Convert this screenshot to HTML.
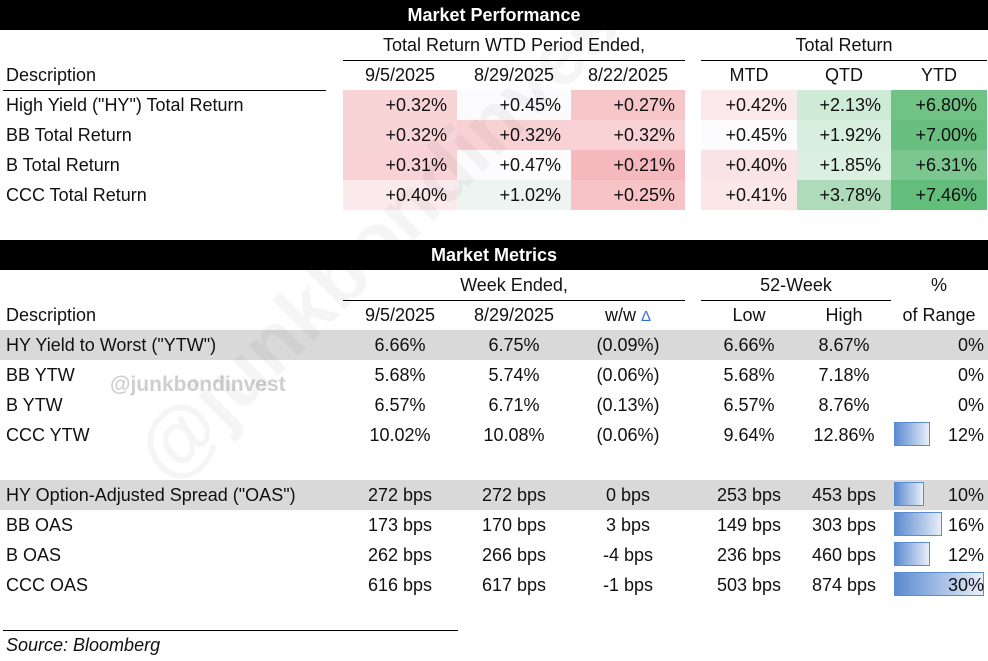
<!DOCTYPE html>
<html><head><meta charset="utf-8">
<style>
body{margin:0;width:988px;height:661px;background:#fff;position:relative;overflow:hidden;font-family:"Liberation Sans",sans-serif;font-size:18px;color:#111}
.a{position:absolute;white-space:nowrap;line-height:30px;height:30px}
.bar{position:absolute;background:#000;color:#fff;font-weight:bold;text-align:center;line-height:30px;height:30px;left:0;width:988px}
.ln{position:absolute;height:1px;background:#000}
.r{text-align:right;padding-right:10px;box-sizing:border-box}
.c{text-align:center}
.g{position:absolute;left:0;width:988px;height:30px;background:#d9d9d9}
.wm{position:absolute;left:150px;top:420px;font-size:80px;font-weight:bold;color:rgba(0,0,0,0.04);transform:rotate(-45deg);transform-origin:left center}
</style></head><body>
<div class="bar" style="top:0">Market Performance</div>
<div class="a c" style="left:343px;width:342px;top:30px">Total Return WTD Period Ended,</div>
<div class="a c" style="left:701px;width:286px;top:30px">Total Return</div>
<div class="ln" style="left:343px;width:342px;top:60px"></div>
<div class="ln" style="left:701px;width:286px;top:60px"></div>
<div class="a" style="left:6px;top:60px">Description</div>
<div class="a c" style="left:343px;width:114px;top:60px">9/5/2025</div>
<div class="a c" style="left:457px;width:114px;top:60px">8/29/2025</div>
<div class="a c" style="left:571px;width:114px;top:60px">8/22/2025</div>
<div class="a c" style="left:701px;width:96px;top:60px">MTD</div>
<div class="a c" style="left:797px;width:94px;top:60px">QTD</div>
<div class="a c" style="left:891px;width:96px;top:60px">YTD</div>
<div class="ln" style="left:3px;width:323px;top:90px"></div>
<div id="perf"></div>

<div class="bar" style="top:240px">Market Metrics</div>
<div class="a c" style="left:343px;width:342px;top:270px">Week Ended,</div>
<div class="a c" style="left:701px;width:190px;top:270px">52-Week</div>
<div class="a c" style="left:891px;width:96px;top:270px">%</div>
<div class="ln" style="left:343px;width:342px;top:300px"></div>
<div class="ln" style="left:701px;width:190px;top:300px"></div>
<div class="a" style="left:6px;top:300px">Description</div>
<div class="a c" style="left:343px;width:114px;top:300px">9/5/2025</div>
<div class="a c" style="left:457px;width:114px;top:300px">8/29/2025</div>
<div class="a c" style="left:571px;width:114px;top:300px">w/w <span style="color:#2f6fd0;font-size:15px">Δ</span></div>
<div class="a c" style="left:701px;width:96px;top:300px">Low</div>
<div class="a c" style="left:797px;width:94px;top:300px">High</div>
<div class="a c" style="left:891px;width:96px;top:300px">of Range</div>
<div class="ln" style="left:3px;width:323px;top:330px"></div>
<div class="ln" style="left:343px;width:342px;top:330px"></div>
<div class="ln" style="left:701px;width:286px;top:330px"></div>
<div class="g" style="top:330px"></div>
<div class="g" style="top:480px"></div>
<div class="a" style="left:110px;top:370px;color:#cfcfcf;font-weight:bold;font-size:21px">@junkbondinvest</div>
<div id="met"></div>
<div class="ln" style="left:3px;width:455px;top:630px"></div>
<div class="a" style="left:6px;top:630px;font-style:italic">Source: Bloomberg</div>
<div class="wm">@junkbondinvest</div>

<script>
const perfRows=["High Yield (\"HY\") Total Return","BB Total Return","B Total Return","CCC Total Return"];
const perfVals=[["+0.32%","+0.45%","+0.27%","+0.42%","+2.13%","+6.80%"],["+0.32%","+0.32%","+0.32%","+0.45%","+1.92%","+7.00%"],["+0.31%","+0.47%","+0.21%","+0.40%","+1.85%","+6.31%"],["+0.40%","+1.02%","+0.25%","+0.41%","+3.78%","+7.46%"]];
const perfColors=[["#f8d4d7","#fbfbfe","#f7c6c9","#fbe8ea","#cdebd5","#70c285"],["#f8d4d7","#f8d1d4","#f8d2d5","#fcfcff","#d8efdf","#69bf80"],["#f8d2d5","#fcfcff","#f5b9bd","#f9e3e6","#dcf0e2","#7bc78f"],["#fbeaec","#eef4f1","#f7c3c6","#fbe6e8","#aedcbb","#63be7b"]];
const metRows=["HY Yield to Worst (\"YTW\")","BB YTW","B YTW","CCC YTW","","HY Option-Adjusted Spread (\"OAS\")","BB OAS","B OAS","CCC OAS"];
const metVals=[["6.66%","6.75%","(0.09%)","6.66%","8.67%"],["5.68%","5.74%","(0.06%)","5.68%","7.18%"],["6.57%","6.71%","(0.13%)","6.57%","8.76%"],["10.02%","10.08%","(0.06%)","9.64%","12.86%"],null,["272 bps","272 bps","0 bps","253 bps","453 bps"],["173 bps","170 bps","3 bps","149 bps","303 bps"],["262 bps","266 bps","-4 bps","236 bps","460 bps"],["616 bps","617 bps","-1 bps","503 bps","874 bps"]];
const rangePct=[0,0,0,12,null,10,16,12,30];
const pc=[[343,114],[457,114],[571,114],[701,96],[797,94],[891,96]];
const mc=[[343,114],[457,114],[571,114],[701,96],[797,94]];
const P=document.getElementById('perf'),M=document.getElementById('met');
perfRows.forEach((n,i)=>{
  const y=90+i*30;
  const d=document.createElement('div');d.className='a';d.style.left='6px';d.style.top=y+'px';d.textContent=n;
  
  
  P.appendChild(d);
  perfVals[i].forEach((v,j)=>{
    const c=document.createElement('div');c.className='a r';
    c.style.left=pc[j][0]+'px';c.style.width=pc[j][1]+'px';c.style.top=y+'px';c.style.background=perfColors[i][j];c.textContent=v;
    
    
    P.appendChild(c);
  });
});
const xs=v=>v*3.0;
metRows.forEach((n,i)=>{
  if(metVals[i]===null)return;
  const y=330+i*30;
  const d=document.createElement('div');d.className='a';d.style.left='6px';d.style.top=y+'px';d.textContent=n;
  
  
  M.appendChild(d);
  metVals[i].forEach((v,j)=>{
    const c=document.createElement('div');c.className='a c';
    c.style.left=mc[j][0]+'px';c.style.width=mc[j][1]+'px';c.style.top=y+'px';c.textContent=v;
    
    
    M.appendChild(c);
  });
  const p=rangePct[i];
  if(p>0){
    const b=document.createElement('div');
    b.style.cssText='position:absolute;left:894px;top:'+(y+2)+'px;height:24px;width:'+xs(p)+'px;box-sizing:border-box;border:1px solid #5b8bd0;background:linear-gradient(to right,#5b8bd0,#e8eef8)';
    
    
    M.appendChild(b);
  }
  const t=document.createElement('div');t.className='a';t.style.right='4px';t.style.top=y+'px';t.textContent=p+'%';
  
  
  M.appendChild(t);
});
</script>
</body></html>
